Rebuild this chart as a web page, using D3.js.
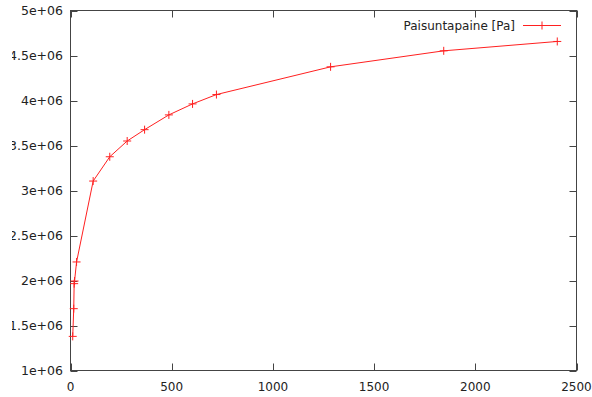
<!DOCTYPE html>
<html><head><meta charset="utf-8">
<script src="https://cdn.jsdelivr.net/npm/d3@7"></script>
<style>
html,body{margin:0;padding:0;background:#fff;}
svg{display:block;font-family:"DejaVu Sans",sans-serif;}
</style></head>
<body>
<svg id="c" width="592" height="397"></svg>
<script>
const seriesName = "Paisuntapaine [Pa]";
const xValues = [11, 16, 18, 20, 30, 112, 194, 280, 366, 486, 603, 721, 1285, 1844, 2405];
const yValues = [1.379e6, 1.687e6, 1.965e6, 1.994e6, 2.206e6, 3.105e6, 3.375e6, 3.55e6, 3.676e6, 3.84e6, 3.962e6, 4.066e6, 4.374e6, 4.552e6, 4.656e6];
const xTicks = [0, 500, 1000, 1500, 2000, 2500];
const yTicks = [1e6, 1.5e6, 2e6, 2.5e6, 3e6, 3.5e6, 4e6, 4.5e6, 5e6];
const yTickLabels = ["1e+06", "1.5e+06", "2e+06", "2.5e+06", "3e+06", "3.5e+06", "4e+06", "4.5e+06", "5e+06"];

const L = 70.5, R = 576.5, T = 10.5, B = 370.5;
const svg = d3.select("#c");
const x = d3.scaleLinear().domain([0, 2500]).range([L, R]);
const y = d3.scaleLinear().domain([1e6, 5e6]).range([B, T]);
const frameCol = "#444", textCol = "#222", tl = 7;

svg.append("defs").append("clipPath").attr("id", "lblclip")
  .append("rect").attr("x", 12).attr("y", 0).attr("width", 60).attr("height", 397);

// ticks (inward, mirrored)
const g = svg.append("g").attr("stroke", frameCol).attr("stroke-width", 1);
xTicks.forEach(v => {
  const px = Math.round(x(v)) + 0.5;
  g.append("line").attr("x1", px).attr("x2", px).attr("y1", B).attr("y2", B - tl);
  g.append("line").attr("x1", px).attr("x2", px).attr("y1", T).attr("y2", T + tl);
});
yTicks.forEach(v => {
  const py = Math.round(y(v)) + 0.5;
  g.append("line").attr("x1", L).attr("x2", L + tl).attr("y1", py).attr("y2", py);
  g.append("line").attr("x1", R).attr("x2", R - tl).attr("y1", py).attr("y2", py);
});
svg.append("rect").attr("x", L).attr("y", T).attr("width", R - L).attr("height", B - T)
  .attr("fill", "none").attr("stroke", frameCol).attr("stroke-width", 1);

// tick labels
svg.append("g").selectAll("text").data(xTicks).join("text")
  .attr("x", d => x(d)).attr("y", 391).attr("text-anchor", "middle")
  .attr("font-size", 12).attr("fill", textCol).text(d => d);
svg.append("g").attr("clip-path", "url(#lblclip)").selectAll("text").data(yTicks).join("text")
  .attr("x", 63).attr("y", d => y(d) + 4.5).attr("text-anchor", "end")
  .attr("font-size", 12.5).attr("fill", textCol).text((d, i) => yTickLabels[i]);

// series
const data = xValues.map((v, i) => [v, yValues[i]]);
const red = "#ff2020";
svg.append("path").datum(data)
  .attr("d", d3.line().x(d => x(d[0])).y(d => y(d[1])))
  .attr("fill", "none").attr("stroke", red).attr("stroke-width", 1);
const m = 4;
const mk = svg.append("g").attr("stroke", red).attr("stroke-width", 1);
data.forEach(d => {
  const px = x(d[0]), py = y(d[1]);
  mk.append("line").attr("x1", px - m).attr("x2", px + m).attr("y1", py).attr("y2", py);
  mk.append("line").attr("x1", px).attr("x2", px).attr("y1", py - m).attr("y2", py + m);
});

// legend
const ly = 25.5;
svg.append("text").attr("x", 515).attr("y", ly + 4.5).attr("text-anchor", "end")
  .attr("font-size", 12).attr("fill", textCol).text(seriesName);
svg.append("line").attr("x1", 523).attr("x2", 561).attr("y1", ly).attr("y2", ly)
  .attr("stroke", red).attr("stroke-width", 1);
svg.append("line").attr("x1", 542).attr("x2", 542).attr("y1", ly - m).attr("y2", ly + m)
  .attr("stroke", red).attr("stroke-width", 1);
</script>
</body></html>
